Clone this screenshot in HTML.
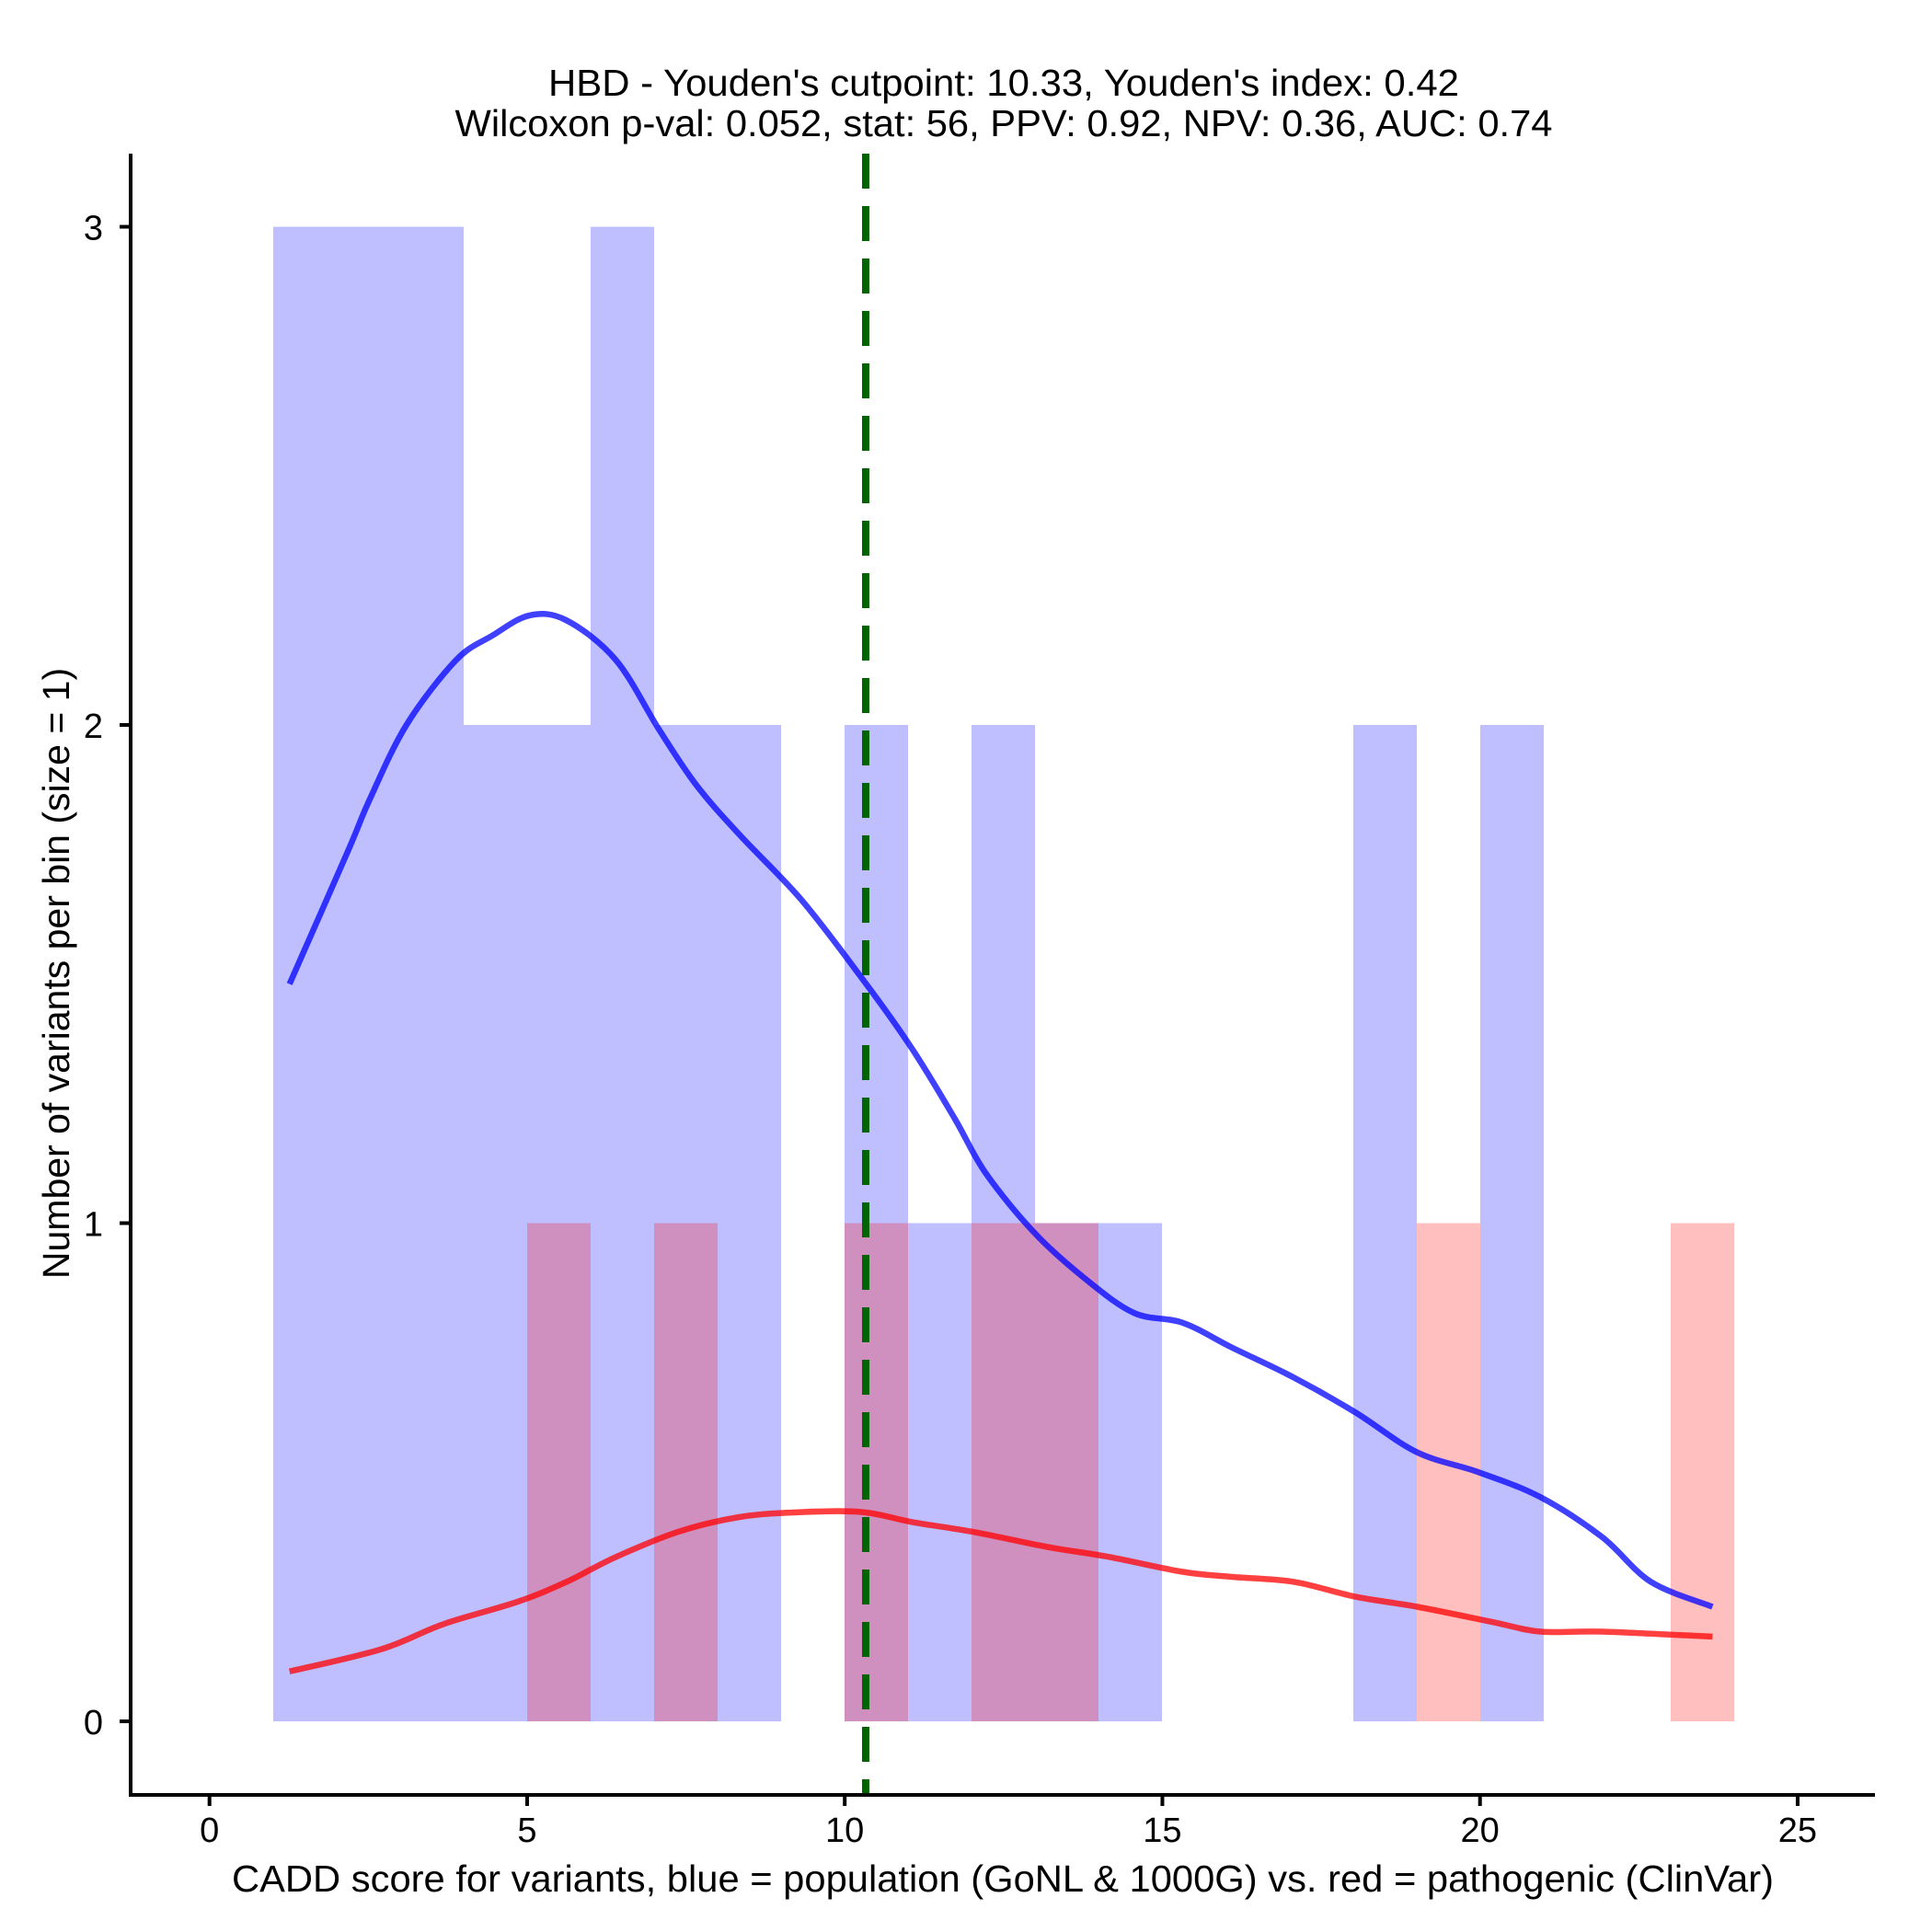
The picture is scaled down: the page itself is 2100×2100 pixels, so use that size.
<!DOCTYPE html>
<html><head><meta charset="utf-8"><style>
html,body{margin:0;padding:0;background:#fff;}
svg{display:block;font-family:"Liberation Sans",Arial,sans-serif;}
</style></head><body>
<svg id="chart" width="2100" height="2100" viewBox="0 0 2100 2100">
<text x="1091" y="104" font-size="41" text-anchor="middle" textLength="990" lengthAdjust="spacingAndGlyphs">HBD - Youden's cutpoint: 10.33, Youden's index: 0.42</text>
<text x="1091" y="148" font-size="41" text-anchor="middle" textLength="1193" lengthAdjust="spacingAndGlyphs">Wilcoxon p-val: 0.052, stat: 56, PPV: 0.92, NPV: 0.36, AUC: 0.74</text>
<g id="bars" shape-rendering="crispEdges"></g>
<g id="curves"></g>
<g id="axes"></g>
<text x="1090" y="2056" font-size="41" text-anchor="middle" textLength="1676" lengthAdjust="spacingAndGlyphs">CADD score for variants, blue = population (GoNL &amp; 1000G) vs. red = pathogenic (ClinVar)</text>
<text x="0" y="0" font-size="41" text-anchor="middle" transform="translate(75,1058) rotate(-90)">Number of variants per bin (size = 1)</text>
</svg>
<script>
const binStarts = [1,2,3,4,5,6,7,8,9,10,11,12,13,14,15,16,17,18,19,20,21,22,23];
const blueCounts = [3,3,3,2,2,3,2,2,0,2,1,2,1,1,0,0,0,2,0,2,0,0,0];
const redCounts  = [0,0,0,0,1,0,1,0,0,1,0,1,1,0,0,0,0,0,1,0,0,0,1];
const blueX = [1.26,2.19,2.52,3.10,3.88,4.46,5.04,5.62,6.40,7.08,7.66,8.34,9.31,10.28,11.06,11.73,12.22,12.99,13.77,14.55,15.32,16.10,17.07,18.04,19.01,19.98,20.95,21.92,22.69,23.66];
const blueY = [1.48,1.75,1.85,2.00,2.13,2.18,2.22,2.21,2.13,1.99,1.88,1.78,1.65,1.49,1.35,1.21,1.10,0.98,0.89,0.82,0.80,0.75,0.69,0.62,0.54,0.50,0.45,0.37,0.28,0.23];
const redX = [1.26,2.71,3.68,4.85,5.62,6.40,7.37,8.34,9.31,10.28,11.06,12.03,13.19,14.16,15.32,16.10,17.07,18.04,19.01,20.17,20.95,21.92,23.66];
const redY = [0.10,0.145,0.195,0.24,0.28,0.33,0.38,0.41,0.42,0.42,0.40,0.38,0.35,0.33,0.30,0.29,0.28,0.25,0.23,0.20,0.18,0.18,0.17];
const cutpoint = 10.33;
const xTicks = [0,5,10,15,20,25];
const yTicks = [0,1,2,3];

const NS = "http://www.w3.org/2000/svg";
const sx = v => 227.7 + v*69.05;
const sy = v => 1871 - v*541.5;
function mk(tag, parent, attrs){const e=document.createElementNS(NS,tag);for(const k in attrs)e.setAttribute(k,attrs[k]);parent.appendChild(e);return e;}
const bars=document.getElementById('bars'), curves=document.getElementById('curves'), axes=document.getElementById('axes');
function drawBars(counts,color,name){
  binStarts.forEach((b,i)=>{
    if(counts[i]>0){
      const x0=Math.round(sx(b)), x1=Math.round(sx(b+1));
      const r=mk('rect',bars,{x:x0,y:sy(counts[i]),width:x1-x0,height:sy(0)-sy(counts[i]),fill:color});
      
      
    }
  });
}
drawBars(blueCounts,'rgba(0,0,255,0.25)','blue-bar');
drawBars(redCounts,'rgba(255,0,0,0.25)','red-bar');
function line(xs,ys,color,name){
  const P=xs.map((x,i)=>[sx(x),sy(ys[i])]);
  let d='M'+P[0][0].toFixed(1)+' '+P[0][1].toFixed(1);
  for(let i=0;i<P.length-1;i++){
    const p0=P[Math.max(i-1,0)],p1=P[i],p2=P[i+1],p3=P[Math.min(i+2,P.length-1)];
    const c1=[p1[0]+(p2[0]-p0[0])/6,p1[1]+(p2[1]-p0[1])/6];
    const c2=[p2[0]-(p3[0]-p1[0])/6,p2[1]-(p3[1]-p1[1])/6];
    d+=' C'+c1.map(v=>v.toFixed(1)).join(' ')+' '+c2.map(v=>v.toFixed(1)).join(' ')+' '+p2.map(v=>v.toFixed(1)).join(' ');
  }
  const p=mk('path',curves,{d:d,fill:'none',stroke:color,'stroke-width':6.5,'stroke-linejoin':'round'});
  
  
}
line(blueX,blueY,'rgba(0,0,255,0.75)','blue-density-line');
line(redX,redY,'rgba(255,0,0,0.75)','red-density-line');
const cl=mk('line',curves,{x1:sx(cutpoint),x2:sx(cutpoint),y1:167,y2:1951,stroke:'#006400','stroke-width':8,'stroke-dasharray':'38 19'});


const ya=mk('line',axes,{x1:142,x2:142,y1:167,y2:1953,stroke:'#000','stroke-width':4});


const xa=mk('line',axes,{x1:140,x2:2038,y1:1951,y2:1951,stroke:'#000','stroke-width':4});


xTicks.forEach(t=>{
  const l=mk('line',axes,{x1:sx(t),x2:sx(t),y1:1951,y2:1963,stroke:'#000','stroke-width':4});
  
  
  const tx=mk('text',axes,{x:sx(t),y:2002,'font-size':38,'text-anchor':'middle'});
  tx.textContent=t;
  
  
});
yTicks.forEach(t=>{
  const l=mk('line',axes,{x1:130,x2:142,y1:sy(t),y2:sy(t),stroke:'#000','stroke-width':4});
  
  
  const tx=mk('text',axes,{x:112,y:sy(t)+14,'font-size':38,'text-anchor':'end'});
  tx.textContent=t;
  
  
});
</script>
</body></html>
